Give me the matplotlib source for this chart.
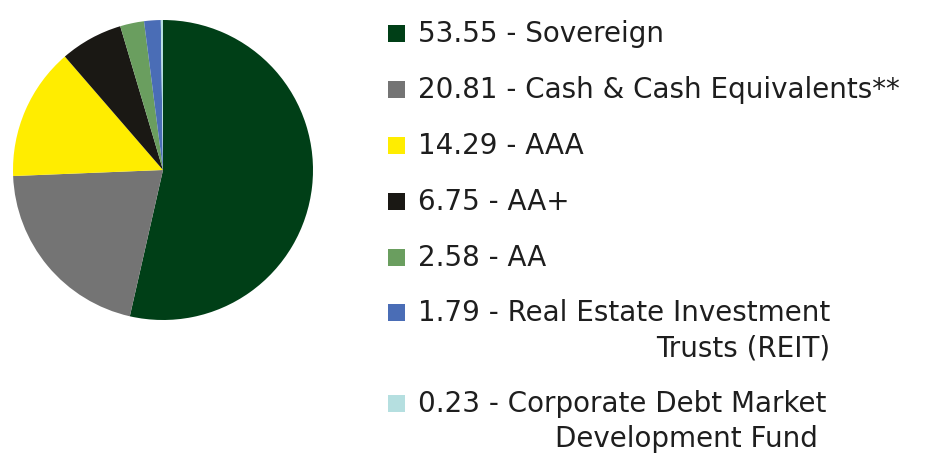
import matplotlib.pyplot as plt
from matplotlib.patches import Rectangle

# Portfolio composition (%)
labels = ["Sovereign", "Cash & Cash Equivalents**", "AAA", "AA+", "AA",
          "Real Estate Investment\nTrusts (REIT)",
          "Corporate Debt Market\nDevelopment Fund "]
values = [53.55, 20.81, 14.29, 6.75, 2.58, 1.79, 0.23]
colors = ["#003f17", "#747474", "#ffed00", "#1a1814", "#6a9e5f", "#4a6db6", "#b5dfe0"]

W, H = 933, 461
FS = 20
fig = plt.figure(figsize=(W / 100, H / 100), dpi=100)

# Pie
ax = fig.add_axes([13 / W, (H - 320) / H, 300 / W, 300 / H])
ax.pie(values, colors=colors, startangle=90, counterclock=False,
       wedgeprops=dict(linewidth=0))
ax.set_xlim(-1, 1)
ax.set_ylim(-1, 1)
ax.axis("off")

# Legend, drawn by hand (square at first line, text placed by its first-line baseline)
baselines = [42, 98, 154, 210, 266, 321, 412]
for lab, val, col, yb in zip(labels, values, colors, baselines):
    fig.patches.append(Rectangle((388 / W, (H - yb) / H), 17 / W, 17 / H,
                                 facecolor=col, edgecolor="none",
                                 transform=fig.transFigure, figure=fig))
    first = f"{val:.2f} - {lab.splitlines()[0]}"
    t = fig.text(418 / W, (H - yb) / H, first, ha="left", va="baseline",
                 fontsize=FS, family="DejaVu Sans", color="#1e1e1e")
    if "\n" in lab:
        fig.canvas.draw()
        bb = t.get_window_extent()
        fig.text(bb.x1 / W, (H - yb - 35) / H, lab.splitlines()[1],
                 ha="right", va="baseline", fontsize=FS, family="DejaVu Sans",
                 color="#1e1e1e")

fig.savefig("out.png", dpi=100)
